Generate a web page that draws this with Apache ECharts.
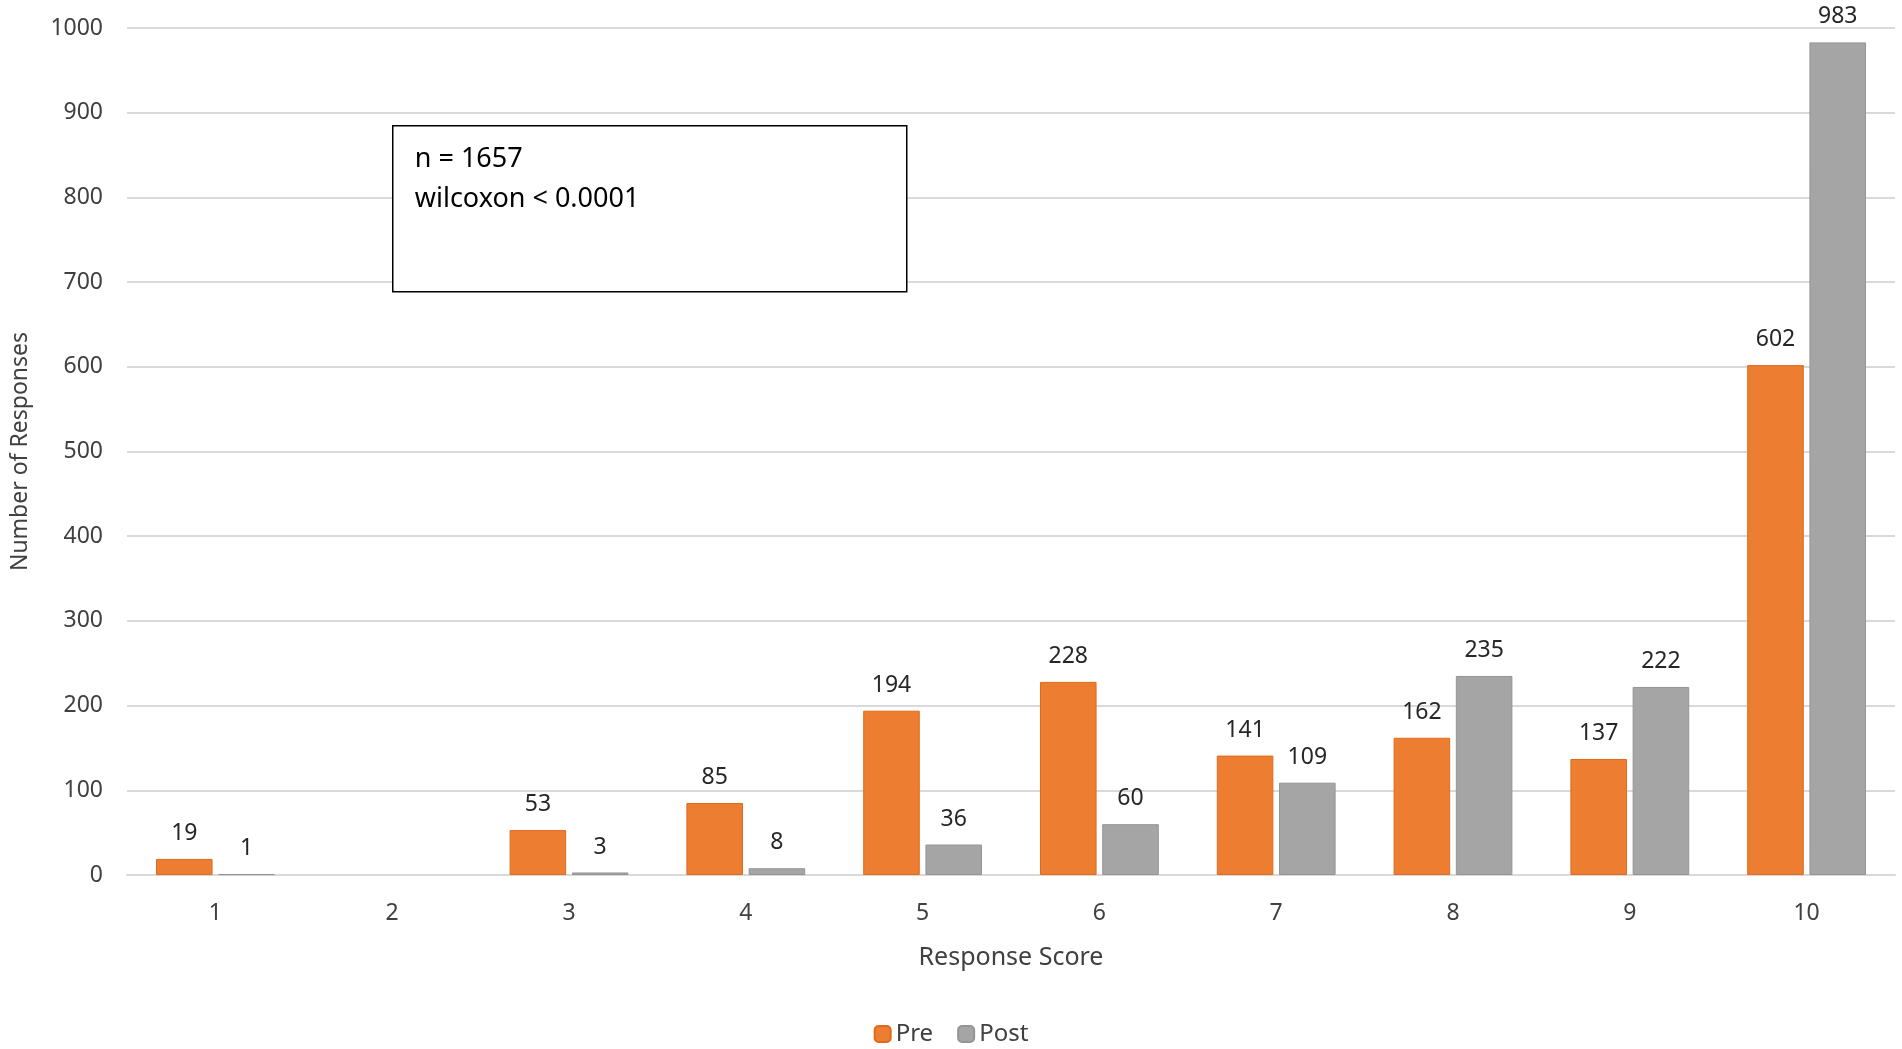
<!DOCTYPE html>
<html>
<head>
<meta charset="utf-8">
<script src="https://cdn.jsdelivr.net/npm/echarts@6/dist/echarts.min.js"></script>
<style>html,body{margin:0;padding:0;background:#fff}#c{width:1902px;height:1049px}</style>
</head>
<body>
<div id="c"></div>
<script>
const categories = ['1','2','3','4','5','6','7','8','9','10'];
const preValues  = [19, null, 53, 85, 194, 228, 141, 162, 137, 602];
const postValues = [1, null, 3, 8, 36, 60, 109, 235, 222, 983];
const yTicks = { min: 0, max: 1000, interval: 100 };
const annotationLines = ['n = 1657', 'wilcoxon < 0.0001'];

const FONT = '"Noto Sans", "Open Sans", sans-serif';
const chart = echarts.init(document.getElementById('c'));
const labelStyle = { show: true, position: 'top', distance: 14, color: '#262626', fontSize: 23, fontFamily: FONT };
chart.setOption({
  animation: false,
  backgroundColor: '#fff',
  grid: { left: 127, right: 7, top: 28, bottom: 174, containLabel: false },
  legend: {
    bottom: -2, left: 'center',
    itemWidth: 16, itemHeight: 16, itemGap: 24,
    textStyle: { color: '#404040', fontSize: 24, fontFamily: FONT },
    data: ['Pre', 'Post']
  },
  graphic: [{
    type: 'group', left: 392, top: 125, z: 100,
    children: [
      { type: 'rect', z: 100, shape: { x: 0, y: 0, width: 514, height: 166 }, style: { fill: '#fff', stroke: '#000', lineWidth: 1.5 } },
      { type: 'text', z: 101, x: 22, y: 20, style: { text: annotationLines[0], fill: '#000', fontSize: 27, fontFamily: FONT } },
      { type: 'text', z: 101, x: 22, y: 60, style: { text: annotationLines[1], fill: '#000', fontSize: 27, fontFamily: FONT } }
    ]
  }],
  xAxis: {
    type: 'category', data: categories,
    name: 'Response Score', nameLocation: 'middle', nameGap: 70,
    nameTextStyle: { color: '#404040', fontSize: 25, fontFamily: FONT },
    axisLine: { lineStyle: { color: '#D9D9D9', width: 2 } },
    axisTick: { show: false },
    axisLabel: { color: '#404040', fontSize: 23, fontFamily: FONT, margin: 27 }
  },
  yAxis: {
    type: 'value', min: yTicks.min, max: yTicks.max, interval: yTicks.interval,
    name: 'Number of Responses', nameLocation: 'middle', nameGap: 95,
    nameTextStyle: { color: '#404040', fontSize: 23, fontFamily: FONT },
    axisLine: { show: false }, axisTick: { show: false },
    axisLabel: { color: '#404040', fontSize: 23, fontFamily: FONT, margin: 24, formatter: v => String(v) },
    splitLine: { lineStyle: { color: '#D9D9D9', width: 2 } }
  },
  series: [
    { name: 'Pre', type: 'bar', data: preValues, barWidth: '32%', barGap: '10%',
      itemStyle: { color: '#ED7D31', borderColor: '#E06A1B', borderWidth: 1 }, label: labelStyle },
    { name: 'Post', type: 'bar', data: postValues, barWidth: '32%', barGap: '10%',
      itemStyle: { color: '#A5A5A5', borderColor: '#959595', borderWidth: 1 }, label: labelStyle }
  ]
});
</script>
</body>
</html>
